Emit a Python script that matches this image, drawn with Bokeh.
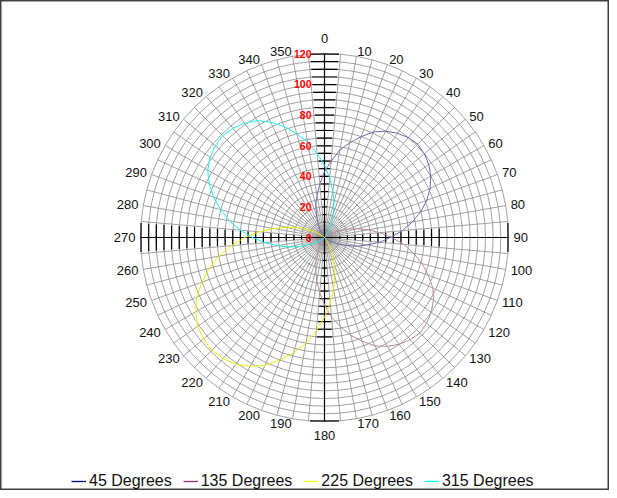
import math
from bokeh.plotting import figure
from bokeh.models import Range1d, Legend, LegendItem
from bokeh.embed import file_html
from bokeh.resources import INLINE
from bokeh.core.properties import value

# ---------------- data ----------------
angles = list(range(0, 360, 5))                      # category spokes (degrees)
angle_labels = [0, 10, 20, 30, 40, 50, 60, 70, 80, 90, 100, 110, 120, 130, 140, 150, 160, 170,
                180, 190, 200, 210, 220, 230, 240, 250, 260, 270, 280, 290, 300, 310, 320, 330, 340, 350]
ring_values = [5, 10, 15, 20, 25, 30, 35, 40, 45, 50, 55, 60, 65, 70, 75, 80, 85, 90, 95, 100, 105, 110, 115, 120]
tick_values = [0, 20, 40, 60, 80, 100, 120]
tick_labels = ["0", "20", "40", "60", "80", "100", "120"]
series_names = ["45 Degrees", "135 Degrees", "225 Degrees", "315 Degrees"]

s45 = [43, 50, 58, 64, 70, 76, 80, 83, 85, 86, 85, 83, 80, 76, 71, 65, 58, 51,
       43, 36, 28, 22, 15, 10, 6, 3, 1, 0, 0, 0, 0, 0, 0, 0, 0, 0,
       0, 0, 0, 0, 0, 0, 0, 0, 0, 0, 0, 0, 0, 0, 0, 0, 0, 0,
       0, 0, 0, 0, 0, 0, 0, 0, 0, 0, 1, 3, 6, 10, 15, 22, 28, 35]
s135 = [0, 0, 0, 0, 0, 0, 0, 0, 0, 0, 1, 3, 6, 10, 16, 22, 29, 36,
        44, 52, 59, 66, 72, 78, 82, 85, 87, 88, 87, 85, 82, 78, 72, 66, 59, 52,
        44, 36, 29, 22, 16, 10, 6, 3, 1, 0, 0, 0, 0, 0, 0, 0, 0, 0,
        0, 0, 0, 0, 0, 0, 0, 0, 0, 0, 0, 0, 0, 0, 0, 0, 0, 0]
s225 = [0, 0, 0, 0, 0, 0, 0, 0, 0, 0, 0, 0, 0, 0, 0, 0, 0, 0,
        0, 0, 0, 0, 0, 0, 0, 0, 0, 0, 1, 3, 7, 12, 19, 26, 34, 43,
        52, 61, 70, 78, 85, 92, 97, 101, 103, 104, 103, 101, 97, 92, 85, 78, 70, 61,
        52, 43, 34, 26, 19, 12, 7, 3, 1, 0, 0, 0, 0, 0, 0, 0, 0, 0]
s315 = [47, 39, 31, 24, 17, 11, 6, 3, 1, 0, 0, 0, 0, 0, 0, 0, 0, 0,
        0, 0, 0, 0, 0, 0, 0, 0, 0, 0, 0, 0, 0, 0, 0, 0, 0, 0,
        0, 0, 0, 0, 0, 0, 0, 0, 0, 0, 1, 3, 6, 11, 17, 24, 31, 39,
        47, 55, 63, 70, 77, 83, 88, 91, 93, 94, 93, 91, 88, 83, 77, 70, 63, 55]
series_values = [s45, s135, s225, s315]
series_colors = ["#000080", "#993366", "#ffff00", "#00ffff"]
plot_colors = ["#6a6ab4", "#b98aa2", "#f2f000", "#20f0f0"]

# ---------------- layout ----------------
W, H = 609, 490
CX, CY = 324, 237            # centre of the radar in figure pixels
RMAX = 120
K = 184.0 / RMAX             # pixels per value unit
FONT = value("Liberation Sans")

p = figure(width=W, height=H,
           x_range=Range1d(-CX / K, (W - CX) / K),
           y_range=Range1d(-(H - CY) / K, CY / K),
           output_backend="svg", toolbar_location=None, min_border=0)
p.xaxis.visible = False
p.yaxis.visible = False
p.grid.visible = False
p.outline_line_color = "#404040"
p.outline_line_width = 2
p.background_fill_color = "white"
p.border_fill_color = "white"


def pol(r, a):
    t = math.radians(a)
    return r * math.sin(t), r * math.cos(t)


# spokes
sx, sy = [], []
for a in angles:
    x1, y1 = pol(RMAX, a)
    sx.append([0, x1])
    sy.append([0, y1])
p.multi_line(sx, sy, line_color="#8a8a8a", line_width=0.8)

# rings (polygons through the spokes)
rx, ry = [], []
for v in ring_values:
    pts = [pol(v, a) for a in angles + [angles[0]]]
    rx.append([q[0] for q in pts])
    ry.append([q[1] for q in pts])
p.multi_line(rx, ry, line_color="#8a8a8a", line_width=0.8)

# black axes
ax_x, ax_y = [], []
for a in [0, 90, 180, 270]:
    x1, y1 = pol(RMAX, a)
    ax_x.append([0, x1])
    ax_y.append([0, y1])
p.multi_line(ax_x, ax_y, line_color="black", line_width=1.2)

# black tick marks across the axes
tick_rings = {0: ring_values, 270: ring_values,
              90: [v for v in ring_values if v <= 75] + [120],
              180: [v for v in ring_values if v <= 65] + [120]}
tx, ty = [], []
for a, rings in tick_rings.items():
    for v in rings:
        x0, y0 = pol(v, a - 4.5)
        x1, y1 = pol(v, a + 4.5)
        tx.append([x0, x1])
        ty.append([y0, y1])
p.multi_line(tx, ty, line_color="black", line_width=1.2)

# series
for vals, col in zip(series_values, plot_colors):
    xs, ys = [], []
    for a, r in zip(angles + [angles[0]], vals + [vals[0]]):
        x, y = pol(r, a)
        xs.append(x)
        ys.append(y)
    p.line(xs, ys, line_color=col, line_width=1)

# legend swatches (single point, draws nothing in the plot; used only for the legend)
legend_renderers = [p.line([0], [0], line_color=c, line_width=1.3) for c in series_colors]

# angle labels
groups = {"center0": ([], [], []), "center180": ([], [], []), "left": ([], [], []), "right": ([], [], [])}
for a in angle_labels:
    if a == 0:
        g, R = "center0", 199
    elif a == 180:
        g, R = "center180", 198
    elif a < 180:
        g, R = "left", 189
    else:
        g, R = "right", 189
    x, y = pol(R / K, a)
    groups[g][0].append(x)
    groups[g][1].append(y)
    groups[g][2].append(str(a))
for g, (xs, ys, ts) in groups.items():
    align = "left" if g == "left" else ("right" if g == "right" else "center")
    p.text(xs, ys, text=ts, text_align=align, text_baseline="middle",
           text_font=FONT, text_font_size="13px", text_color="#111111")

# value labels (red)
p.text([-13 / K] * len(tick_values), tick_values, text=tick_labels,
       text_align="right", text_baseline="middle", text_color="#ff0000",
       text_font=FONT, text_font_size="10.5px", text_font_style="bold")

legend = Legend(items=[LegendItem(label=n, renderers=[r]) for n, r in zip(series_names, legend_renderers)],
                orientation="horizontal", location=(71, 0),
                glyph_width=15, glyph_height=16, label_height=16, label_standoff=3, spacing=11,
                padding=0, margin=0, border_line_color=None, background_fill_alpha=0,
                label_text_font="Liberation Sans", label_text_font_size="16px",
                label_text_color="#111111")
p.add_layout(legend)

open("out.html", "w").write(file_html(p, INLINE))
